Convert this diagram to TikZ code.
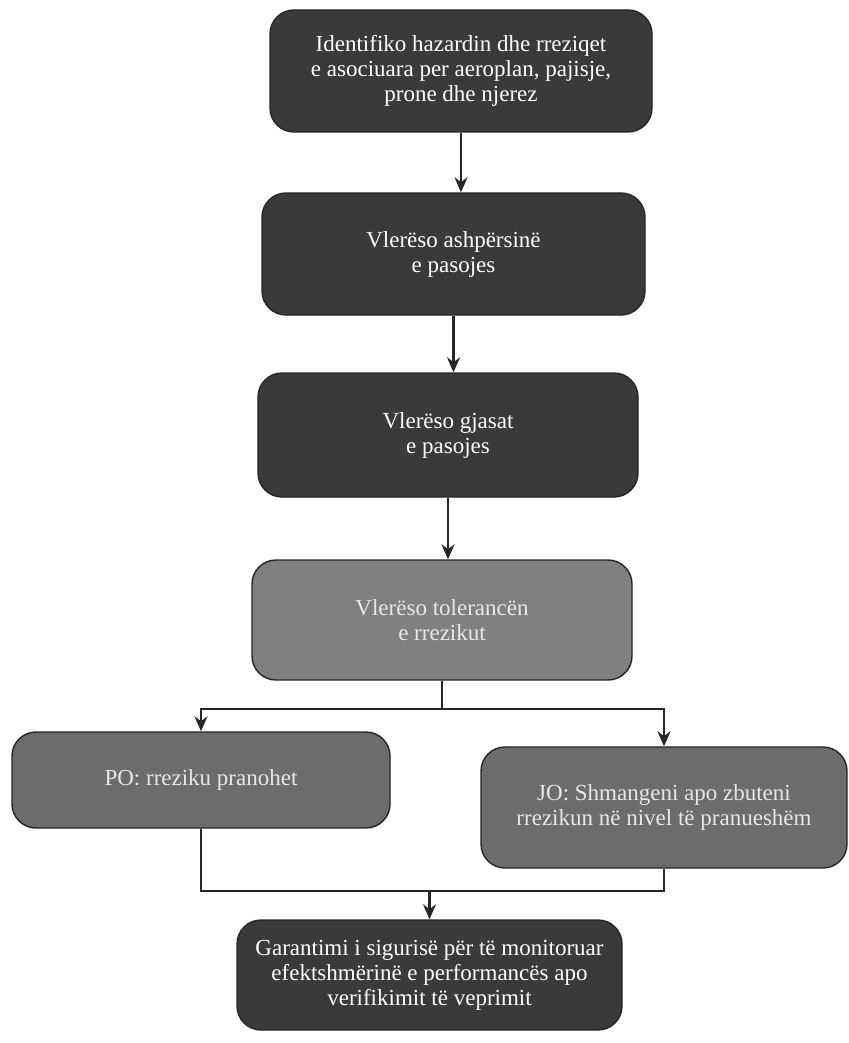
\documentclass[tikz,border=0pt]{standalone}
\usepackage{fontspec}
\setmainfont{Liberation Serif}
\usetikzlibrary{arrows.meta}
\definecolor{darkbox}{HTML}{3A3A3A}
\definecolor{greybox}{HTML}{6C6C6C}
\definecolor{midbox}{HTML}{808080}
\definecolor{paletext}{HTML}{E8E8E8}
\tikzset{
  stepbox/.style={draw=black!85, line width=1.4pt, rounded corners=24pt, align=center,
    inner sep=4pt, font=\fontsize{23}{25}\selectfont},
  darkstep/.style={stepbox, fill=darkbox, text=white},
  greystep/.style={stepbox, fill=greybox, text=paletext},
  midstep/.style={stepbox, fill=midbox, text=paletext},
  conn/.style={line width=2.2pt, draw=black!85},
  arr/.style={conn, -{Stealth[length=15pt,width=13pt]}}
}
\begin{document}
\begin{tikzpicture}[x=1pt,y=-1pt]
\useasboundingbox (0,0) rectangle (848,1043);
\fill[white] (0,0) rectangle (848,1043);
\node[darkstep, minimum width=382pt, minimum height=122pt] (B1) at (461,71)
  {Identifiko hazardin dhe rreziqet\\ e asociuara per aeroplan, pajisje,\\ prone dhe njerez};
\node[darkstep, minimum width=383pt, minimum height=122pt] (B2) at (453.5,254)
  {Vlerëso ashpërsinë\\ e pasojes};
\node[darkstep, minimum width=380pt, minimum height=124pt] (B3) at (448,435)
  {Vlerëso gjasat\\ e pasojes};
\node[midstep, minimum width=380pt, minimum height=120pt] (B4) at (442,620)
  {Vlerëso tolerancën\\ e rrezikut};
\node[greystep, minimum width=378pt, minimum height=96pt] (B5) at (201,780)
  {PO: rreziku pranohet};
\node[greystep, minimum width=366pt, minimum height=121pt] (B6) at (664,807.5)
  {JO: Shmangeni apo zbuteni\\ rrezikun në nivel të pranueshëm};
\node[darkstep, minimum width=385pt, minimum height=110pt] (B7) at (429.5,975)
  {Garantimi i sigurisë për të monitoruar\\ efektshmërinë e performancës apo\\ verifikimit të veprimit};

\draw[arr] (B1.south) -- (B1.south |- B2.north);
\draw[arr] (B2.south) -- (B2.south |- B3.north);
\draw[arr] (B3.south) -- (B3.south |- B4.north);
\draw[conn] (B4.south) -- ++(0,28) coordinate (split);
\draw[arr] (split) -| (B5.north);
\draw[arr] (split) -| (B6.north);
\draw[conn] (B5.south) -- ++(0,62) coordinate (mergeL) -| (B6.south);
\coordinate (merge) at (B7.north |- mergeL);
\draw[arr] (merge) -- (B7.north);
\end{tikzpicture}
\end{document}
